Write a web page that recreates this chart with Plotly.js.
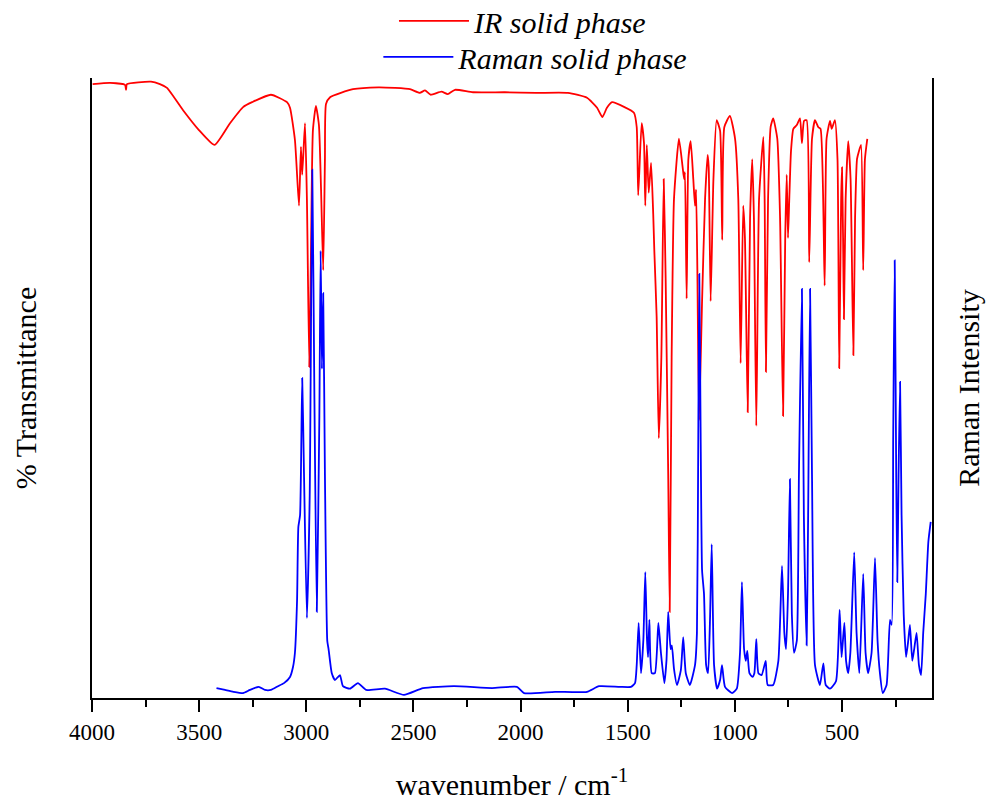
<!DOCTYPE html>
<html>
<head>
<meta charset="utf-8">
<script src="https://cdn.plot.ly/plotly-3.0.1.min.js"></script>
<style>
  html, body { margin: 0; padding: 0; background: #ffffff; }
  #chart { width: 989px; height: 801px; }
</style>
</head>
<body>
<div id="chart"></div>
<script>
// IR spectrum (solid phase): wavenumber (cm-1) and % transmittance
const irWavenumber = [3997,3916,3846,3841,3837,3725,3683,3650,3575,3501,3428,3356,3295,3253,3165,3090,3076,3053,3034,3025,3019,3006,2997,2986,2978,2969,2955,2941,2931,2921,2913,2908,2889,2782,2663,2586,2516,2470,2446,2420,2369,2340,2306,2222,2073,1928,1779,1690,1643,1618,1597,1573,1515,1471,1458,1451,1435,1424,1418,1411,1402,1391,1381,1376,1365,1355,1343,1332,1323,1311,1304,1295,1284,1261,1245,1237,1233,1225,1217,1206,1194,1186,1181,1175,1167,1153,1139,1127,1122,1113,1100,1085,1069,1059,1049,1023,999,984,973,961,953,940,929,919,911,900,887,867,861,855,845,833,821,802,789,775,765,758,752,746,738,727,711,696,687,677,665,653,640,626,611,600,581,572,556,548,533,521,513,504,500,495,491,483,471,460,447,439,430,421,411,401,393,382];
const irTransmittance = [99.0,99.2,98.9,98.1,99.0,99.4,99.0,98.4,94.8,91.6,89.2,92.7,95.3,96.1,97.3,96.1,95.2,90.0,79.4,88.9,84.4,92.7,80.3,53.4,72.3,91.6,95.5,92.4,81.9,69.0,86.8,95.8,96.9,98.2,98.5,98.4,98.2,97.6,98.0,97.3,97.8,97.4,98.1,97.7,97.7,97.6,97.6,96.8,95.2,93.7,95.2,96.1,95.3,94.4,92.1,81.1,92.7,89.5,79.4,89.2,81.5,86.3,78.1,72.3,61.5,41.9,55.0,83.7,67.7,36.0,13.9,55.0,80.5,90.2,86.0,83.7,84.8,64.4,86.9,89.8,83.7,79.4,82.0,69.0,44.8,64.0,80.5,87.6,85.6,64.0,83.7,93.2,91.5,73.9,92.1,93.9,90.2,80.5,54.0,79.4,74.2,46.1,77.4,86.9,77.4,43.9,80.5,90.5,80.5,52.6,80.5,92.1,93.5,90.2,77.4,45.5,74.2,84.4,74.2,80.5,88.2,91.8,92.4,93.5,89.5,93.1,93.2,70.3,90.2,93.2,92.1,91.8,66.5,90.2,93.1,91.8,93.2,86.9,53.2,80.5,85.6,74.2,61.1,80.5,89.8,83.7,55.3,77.4,86.9,88.2,89.2,69.0,86.9,90.2];

// Raman spectrum (solid phase): wavenumber (cm-1) and intensity (arb. units)
const ramanWavenumber = [3419,3379,3340,3295,3263,3222,3193,3165,3132,3104,3076,3062,3053,3043,3037,3029,3019,3011,2997,2984,2972,2962,2951,2939,2933,2927,2921,2913,2902,2896,2881,2866,2843,2829,2796,2759,2721,2633,2544,2455,2311,2133,2017,1984,1839,1690,1634,1536,1485,1466,1458,1449,1438,1427,1418,1410,1405,1399,1388,1373,1357,1345,1329,1319,1311,1300,1294,1284,1270,1252,1241,1229,1210,1186,1177,1171,1166,1160,1153,1144,1134,1125,1116,1108,1097,1083,1069,1060,1046,1013,991,976,967,957,949,942,932,918,909,900,890,875,856,847,821,797,780,769,761,752,743,734,724,711,701,687,678,665,658,649,640,626,603,587,576,556,528,511,502,489,481,471,461,443,432,419,401,390,378,362,346,334,323,310,292,276,268,261,254,247,242,236,229,222,212,201,191,183,172,163,152,141,131,121,109,97,86];
const ramanIntensity = [16,13,10,8,13,18,13,13,19,24,34,50,73,158,276,295,516,368,129,327,852,481,139,455,721,531,653,360,92,79,40,29,37,19,15,24,13,15,5,16,19,16,18,8,10,10,19,18,18,24,53,121,40,94,203,94,66,126,40,40,121,73,24,61,139,79,85,47,21,45,98,40,21,53,105,400,684,442,206,168,53,40,126,248,53,15,29,53,18,8,15,73,187,79,60,76,40,34,40,95,40,37,60,21,21,60,213,105,79,168,353,135,73,92,360,660,295,85,295,660,360,53,21,56,21,15,27,142,66,121,60,40,73,235,105,40,200,73,40,73,226,92,40,8,21,126,118,423,706,360,187,360,510,295,135,66,92,118,60,79,105,53,37,105,168,252,284];

const xTickVals = [4000,3500,3000,2500,2000,1500,1000,500];
const xTickText = ['4000','3500','3000','2500','2000','1500','1000','500'];

const serif = '"Liberation Serif", "Times New Roman", serif';

const traces = [
  {
    x: irWavenumber, y: irTransmittance, type: 'scatter', mode: 'lines',
    name: 'IR solid phase', line: { color: '#ff0000', width: 1.8, shape: 'spline', smoothing: 0.5 },
    xaxis: 'x', yaxis: 'y', legend: 'legend'
  },
  {
    x: ramanWavenumber, y: ramanIntensity, type: 'scatter', mode: 'lines',
    name: 'Raman solid phase', line: { color: '#0000ff', width: 1.8, shape: 'spline', smoothing: 0.5 },
    xaxis: 'x', yaxis: 'y2', legend: 'legend2'
  }
];

const legendCommon = {
  orientation: 'v', bgcolor: 'rgba(0,0,0,0)', borderwidth: 0,
  xanchor: 'left', yanchor: 'middle', itemwidth: 70,
  font: { family: serif, size: 30, color: '#000000', style: 'italic' },
  itemclick: false, itemdoubleclick: false
};

const layout = {
  width: 989, height: 801,
  font: { family: serif, color: '#000000' },
  margin: { l: 92, r: 57, t: 78, b: 103, autoexpand: false },
  paper_bgcolor: '#ffffff', plot_bgcolor: '#ffffff',
  showlegend: true,
  legend: Object.assign({}, legendCommon, { x: 0.3595, y: 1.092 }),
  legend2: Object.assign({}, legendCommon, { x: 0.3409, y: 1.034 }),
  xaxis: {
    range: [4000, 80], autorange: false, automargin: false,
    tickmode: 'array', tickvals: xTickVals, ticktext: xTickText,
    ticks: 'outside', ticklen: 12, tickwidth: 2, tickcolor: '#000000',
    minor: { dtick: 250, tick0: 0, ticks: 'outside', ticklen: 7, tickwidth: 2, tickcolor: '#000000' },
    showline: true, linecolor: '#000000', linewidth: 2, mirror: false,
    showgrid: false, zeroline: false,
    tickfont: { family: serif, size: 23, color: '#000000' },
    title: { text: 'wavenumber / cm<sup>-1</sup>', font: { family: serif, size: 30, color: '#000000' }, standoff: 30 }
  },
  yaxis: {
    range: [0, 100], autorange: false, automargin: false,
    showticklabels: false, ticks: '', showgrid: false, zeroline: false,
    showline: true, linecolor: '#000000', linewidth: 2, mirror: false,
    title: { text: '% Transmittance', font: { family: serif, size: 30, color: '#000000' }, standoff: 45 }
  },
  yaxis2: {
    range: [0, 1000], autorange: false, automargin: false, overlaying: 'y', side: 'right',
    showticklabels: false, ticks: '', showgrid: false, zeroline: false,
    showline: true, linecolor: '#000000', linewidth: 2, mirror: false,
    title: { text: 'Raman Intensity', font: { family: serif, size: 30, color: '#000000' }, standoff: 25 }
  }
};

Plotly.newPlot('chart', traces, layout, { displayModeBar: false, staticPlot: true });
</script>
</body>
</html>
